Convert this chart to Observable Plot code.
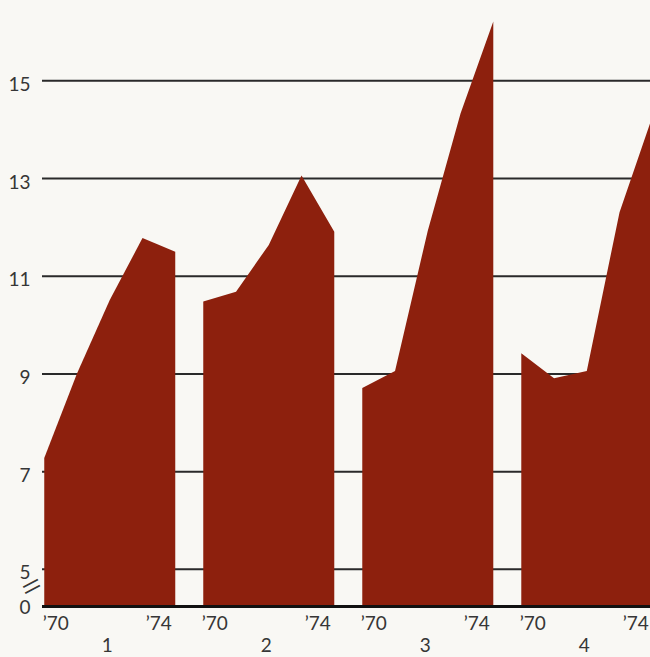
<!DOCTYPE html>
<html>
<head>
<meta charset="utf-8">
<script src="https://cdn.jsdelivr.net/npm/d3@7"></script>
<script src="https://cdn.jsdelivr.net/npm/@observablehq/plot@0.6"></script>
<style>
  html, body { margin: 0; padding: 0; background: #f9f8f4; overflow: hidden; }
</style>
</head>
<body>
<div id="chart"></div>
<script>
// Four groups, each tracked yearly from 1970 to 1974
const panels = ["1", "2", "3", "4"];
const years = [1970, 1971, 1972, 1973, 1974];
const panel1 = [7.27, 9.0, 10.5, 11.77, 11.49];
const panel2 = [10.47, 10.67, 11.63, 13.05, 11.9];
const panel3 = [8.7, 9.05, 11.92, 14.32, 16.2];
const panel4 = [9.41, 8.9, 9.05, 12.3, 14.25];
const yTickValues = [5, 7, 9, 11, 13, 15];
const zeroLabel = "0";
const firstYearLabel = "’70";
const lastYearLabel = "’74";

// The value axis is broken: the baseline labelled 0 sits just under 5
const axisFloor = 4.24;

// Each panel takes four years on one shared axis, followed by a gap
const slot = 4.855;
const series = [panel1, panel2, panel3, panel4];
const rows = series.flatMap((vals, i) =>
  vals.map((v, j) => ({panel: panels[i], pos: i * slot + (years[j] - years[0]), value: v}))
);
const span = years[years.length - 1] - years[0];

const ink = "#363636";

// one slanted stroke of the axis-break sign
const breakStroke = (dx, dy) =>
  Plot.text(["—"], {y: () => axisFloor, frameAnchor: "left", dx, dy, text: d => d, rotate: -28, fontSize: 25, fill: ink});

const chart = Plot.plot({
  width: 650,
  height: 657,
  marginLeft: 42,
  marginRight: 0,
  marginTop: 0,
  marginBottom: 0,
  style: {background: "#f9f8f4", fontFamily: "Lato", fontSize: "19px", overflow: "hidden"},
  x: {domain: [0, 3 * slot + span], range: [44.25, 652.3], axis: null},
  y: {domain: [axisFloor, 16.5], range: [606, 6.9], axis: null},
  marks: [
    Plot.ruleY(yTickValues, {stroke: "#2a2a2a", strokeWidth: 2}),
    Plot.areaY(rows, {x: "pos", y1: () => axisFloor, y2: "value", z: "panel", fill: "#8d200d"}),
    Plot.ruleY([axisFloor], {stroke: "#111", strokeWidth: 3}),
    // value labels
    Plot.text(yTickValues, {y: d => d, frameAnchor: "left", dx: -12, dy: 4, textAnchor: "end", text: d => String(d), fill: ink}),
    Plot.text([zeroLabel], {y: () => axisFloor, frameAnchor: "left", dx: -12, dy: 1, textAnchor: "end", text: d => d, fill: ink}),
    // axis break sign between 0 and 5
    breakStroke(-21, -19),
    breakStroke(-19, -13),
    // year labels under each panel
    Plot.text(panels, {x: (d, i) => i * slot, y: () => axisFloor, dx: -2, dy: 17, textAnchor: "start", text: () => firstYearLabel, fill: ink}),
    Plot.text(panels, {x: (d, i) => i * slot + span, y: () => axisFloor, dx: -4, dy: 17, textAnchor: "end", text: () => lastYearLabel, fill: ink}),
    // panel numbers
    Plot.text(panels, {x: (d, i) => i * slot + span / 2, y: () => axisFloor, dx: -3, dy: 39, text: d => d, fill: ink})
  ]
});

document.getElementById("chart").appendChild(chart);
</script>
</body>
</html>
